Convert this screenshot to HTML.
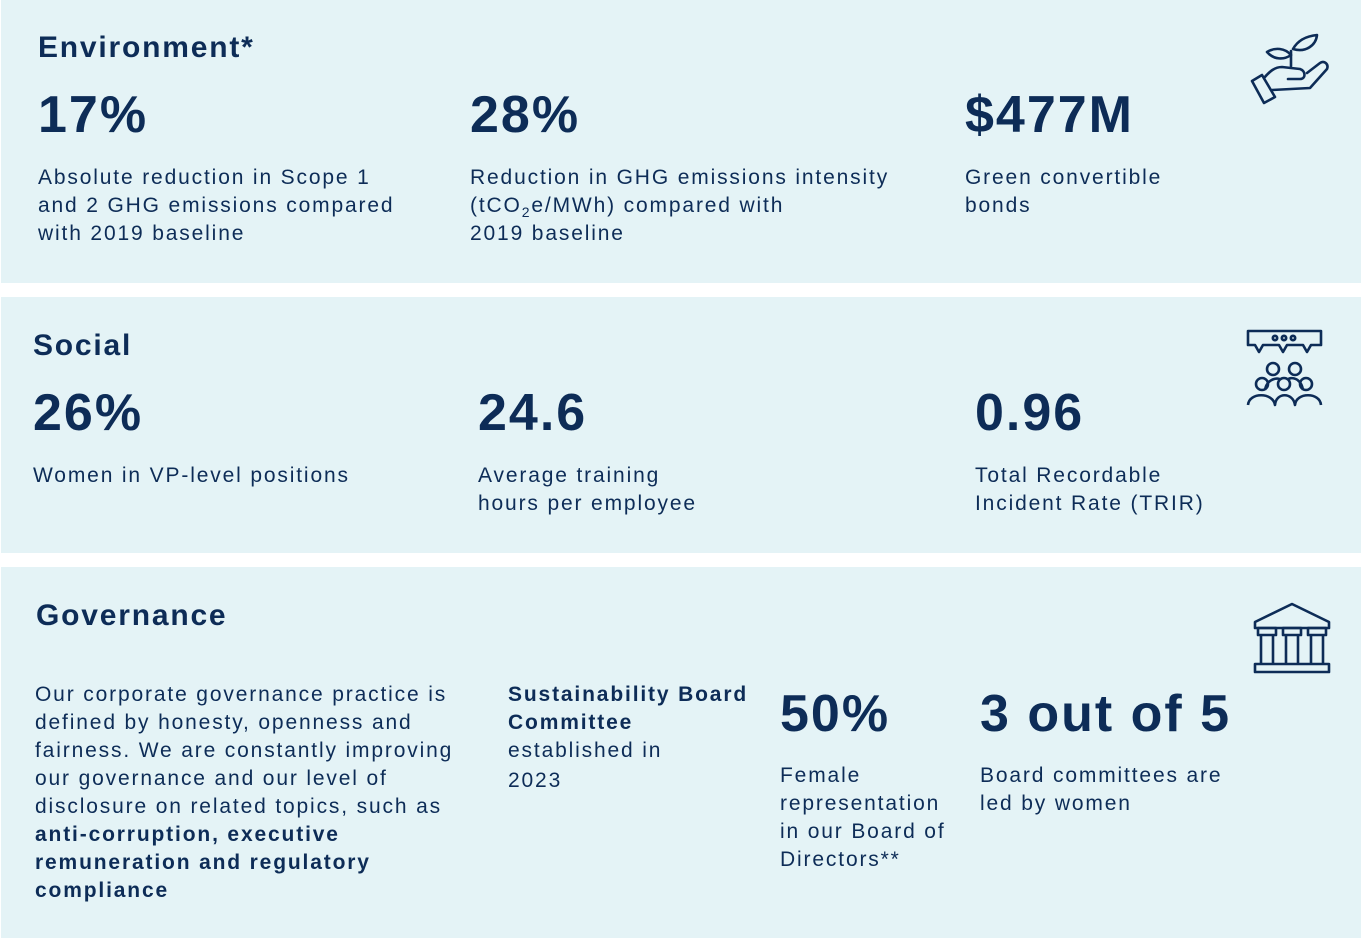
<!DOCTYPE html>
<html><head><meta charset="utf-8"><style>
body{margin:0;width:1361px;height:938px;background:#fff;position:relative;overflow:hidden;font-family:"Liberation Sans",sans-serif;color:#0d2c57}
.p{position:absolute;left:1px;width:1360px;background:#e4f3f6}
.t{position:absolute;white-space:nowrap}
.h{font-size:30px;line-height:36px;font-weight:bold;letter-spacing:1.8px}
.n{font-size:52px;line-height:60px;font-weight:bold;letter-spacing:2px}
.b{font-size:21px;line-height:28px;letter-spacing:1.85px}
.ic{position:absolute}
</style></head><body>
<div class="p" style="top:0;height:283px"></div>
<div class="p" style="top:297px;height:256px"></div>
<div class="p" style="top:567px;height:371px"></div>

<div class="t h" style="left:38px;top:30px">Environment*</div>
<div class="t n" style="left:38px;top:85px">17%</div>
<div class="t b" style="left:38px;top:164px">Absolute reduction in Scope 1<br>and 2 GHG emissions compared<br>with 2019 baseline</div>
<div class="t n" style="left:470px;top:85px">28%</div>
<div class="t b" style="left:470px;top:164px">Reduction in GHG emissions intensity<br>(tCO<sub style="font-size:14px;line-height:0">2</sub>e/MWh) compared with<br>2019 baseline</div>
<div class="t n" style="left:965px;top:85px">$477M</div>
<div class="t b" style="left:965px;top:164px">Green convertible<br>bonds</div>
<svg class="ic" style="left:1250px;top:33px" width="80" height="72" viewBox="0 0 80 72" fill="none" stroke="#0d2c57" stroke-width="2.6" stroke-linejoin="round" stroke-linecap="round">
<path d="M2 48 L12 42 L25 64 L14 70 Z"/>
<path d="M14 45 C20 38 25 34 32 34 L50 36 C56 38 56 46 50 46 L38 46"/>
<path d="M22 57 L60 55 L77 36 C79 31 74 27 70 30 L57 40"/>
<path d="M41 33 V18"/>
<path d="M41 22 C35 15 25 14 17 19 C24 27 34 27 41 22Z"/>
<path d="M43 16 C48 7 57 3 67 2 C66 12 56 20 43 16Z"/></svg>
<div class="t h" style="left:33px;top:328px">Social</div>
<div class="t n" style="left:33px;top:383px">26%</div>
<div class="t b" style="left:33px;top:462px">Women in VP-level positions</div>
<div class="t n" style="left:478px;top:383px">24.6</div>
<div class="t b" style="left:478px;top:462px">Average training<br>hours per employee</div>
<div class="t n" style="left:975px;top:383px">0.96</div>
<div class="t b" style="left:975px;top:462px">Total Recordable<br>Incident Rate (TRIR)</div>
<svg class="ic" style="left:1245px;top:328px" width="80" height="80" viewBox="0 0 80 80" fill="none" stroke="#0d2c57" stroke-width="2.6" stroke-linejoin="round">
<path d="M3 3 H76 V17 H66 L62 24 L58 17 H42 L38 24 L34 17 H18 L14 24 L10 17 H3 Z"/><circle cx="30" cy="10" r="2.2"/><circle cx="39" cy="10" r="2.2"/><circle cx="48" cy="10" r="2.2"/>
<circle cx="28" cy="41" r="6"/><circle cx="50" cy="41" r="6"/><circle cx="17" cy="56" r="6"/><circle cx="39" cy="56" r="6"/><circle cx="61" cy="56" r="6"/>
<path d="M3 77 C4 64 28 64 30 77 C31 64 48 64 50 77 C51 64 75 64 76 77"/><path d="M20 62 C22 50 34 49 36 52 M42 52 C46 48 56 50 58 62"/></svg>
<div class="t h" style="left:36px;top:598px">Governance</div>
<div class="t b" style="left:35px;top:681px">Our corporate governance practice is<br>defined by honesty, openness and<br>fairness. We are constantly improving<br>our governance and our level of<br>disclosure on related topics, such as<br><b>anti-corruption, executive</b><br><b>remuneration and regulatory</b><br><b>compliance</b></div>
<div class="t b" style="left:508px;top:681px"><b>Sustainability Board<br>Committee</b><br>established in<br><span style="position:relative;top:2px">2023</span></div>
<div class="t n" style="left:780px;top:684px">50%</div>
<div class="t b" style="left:780px;top:762px">Female<br>representation<br>in our Board of<br>Directors**</div>
<div class="t n" style="left:980px;top:684px">3 out of 5</div>
<div class="t b" style="left:980px;top:762px">Board committees are<br>led by women</div>
<svg class="ic" style="left:1253px;top:602px" width="78" height="72" viewBox="0 0 78 72" fill="none" stroke="#0d2c57" stroke-width="2.6" stroke-linejoin="round">
<path d="M2 20 L39 2 L76 20 V26 H2 Z"/><rect x="5" y="26" width="18" height="7"/><rect x="30" y="26" width="18" height="7"/><rect x="55" y="26" width="18" height="7"/>
<path d="M8 33 V62 M20 33 V62 M33 33 V62 M45 33 V62 M58 33 V62 M70 33 V62"/><rect x="2" y="62" width="74" height="8"/></svg>
</body></html>
